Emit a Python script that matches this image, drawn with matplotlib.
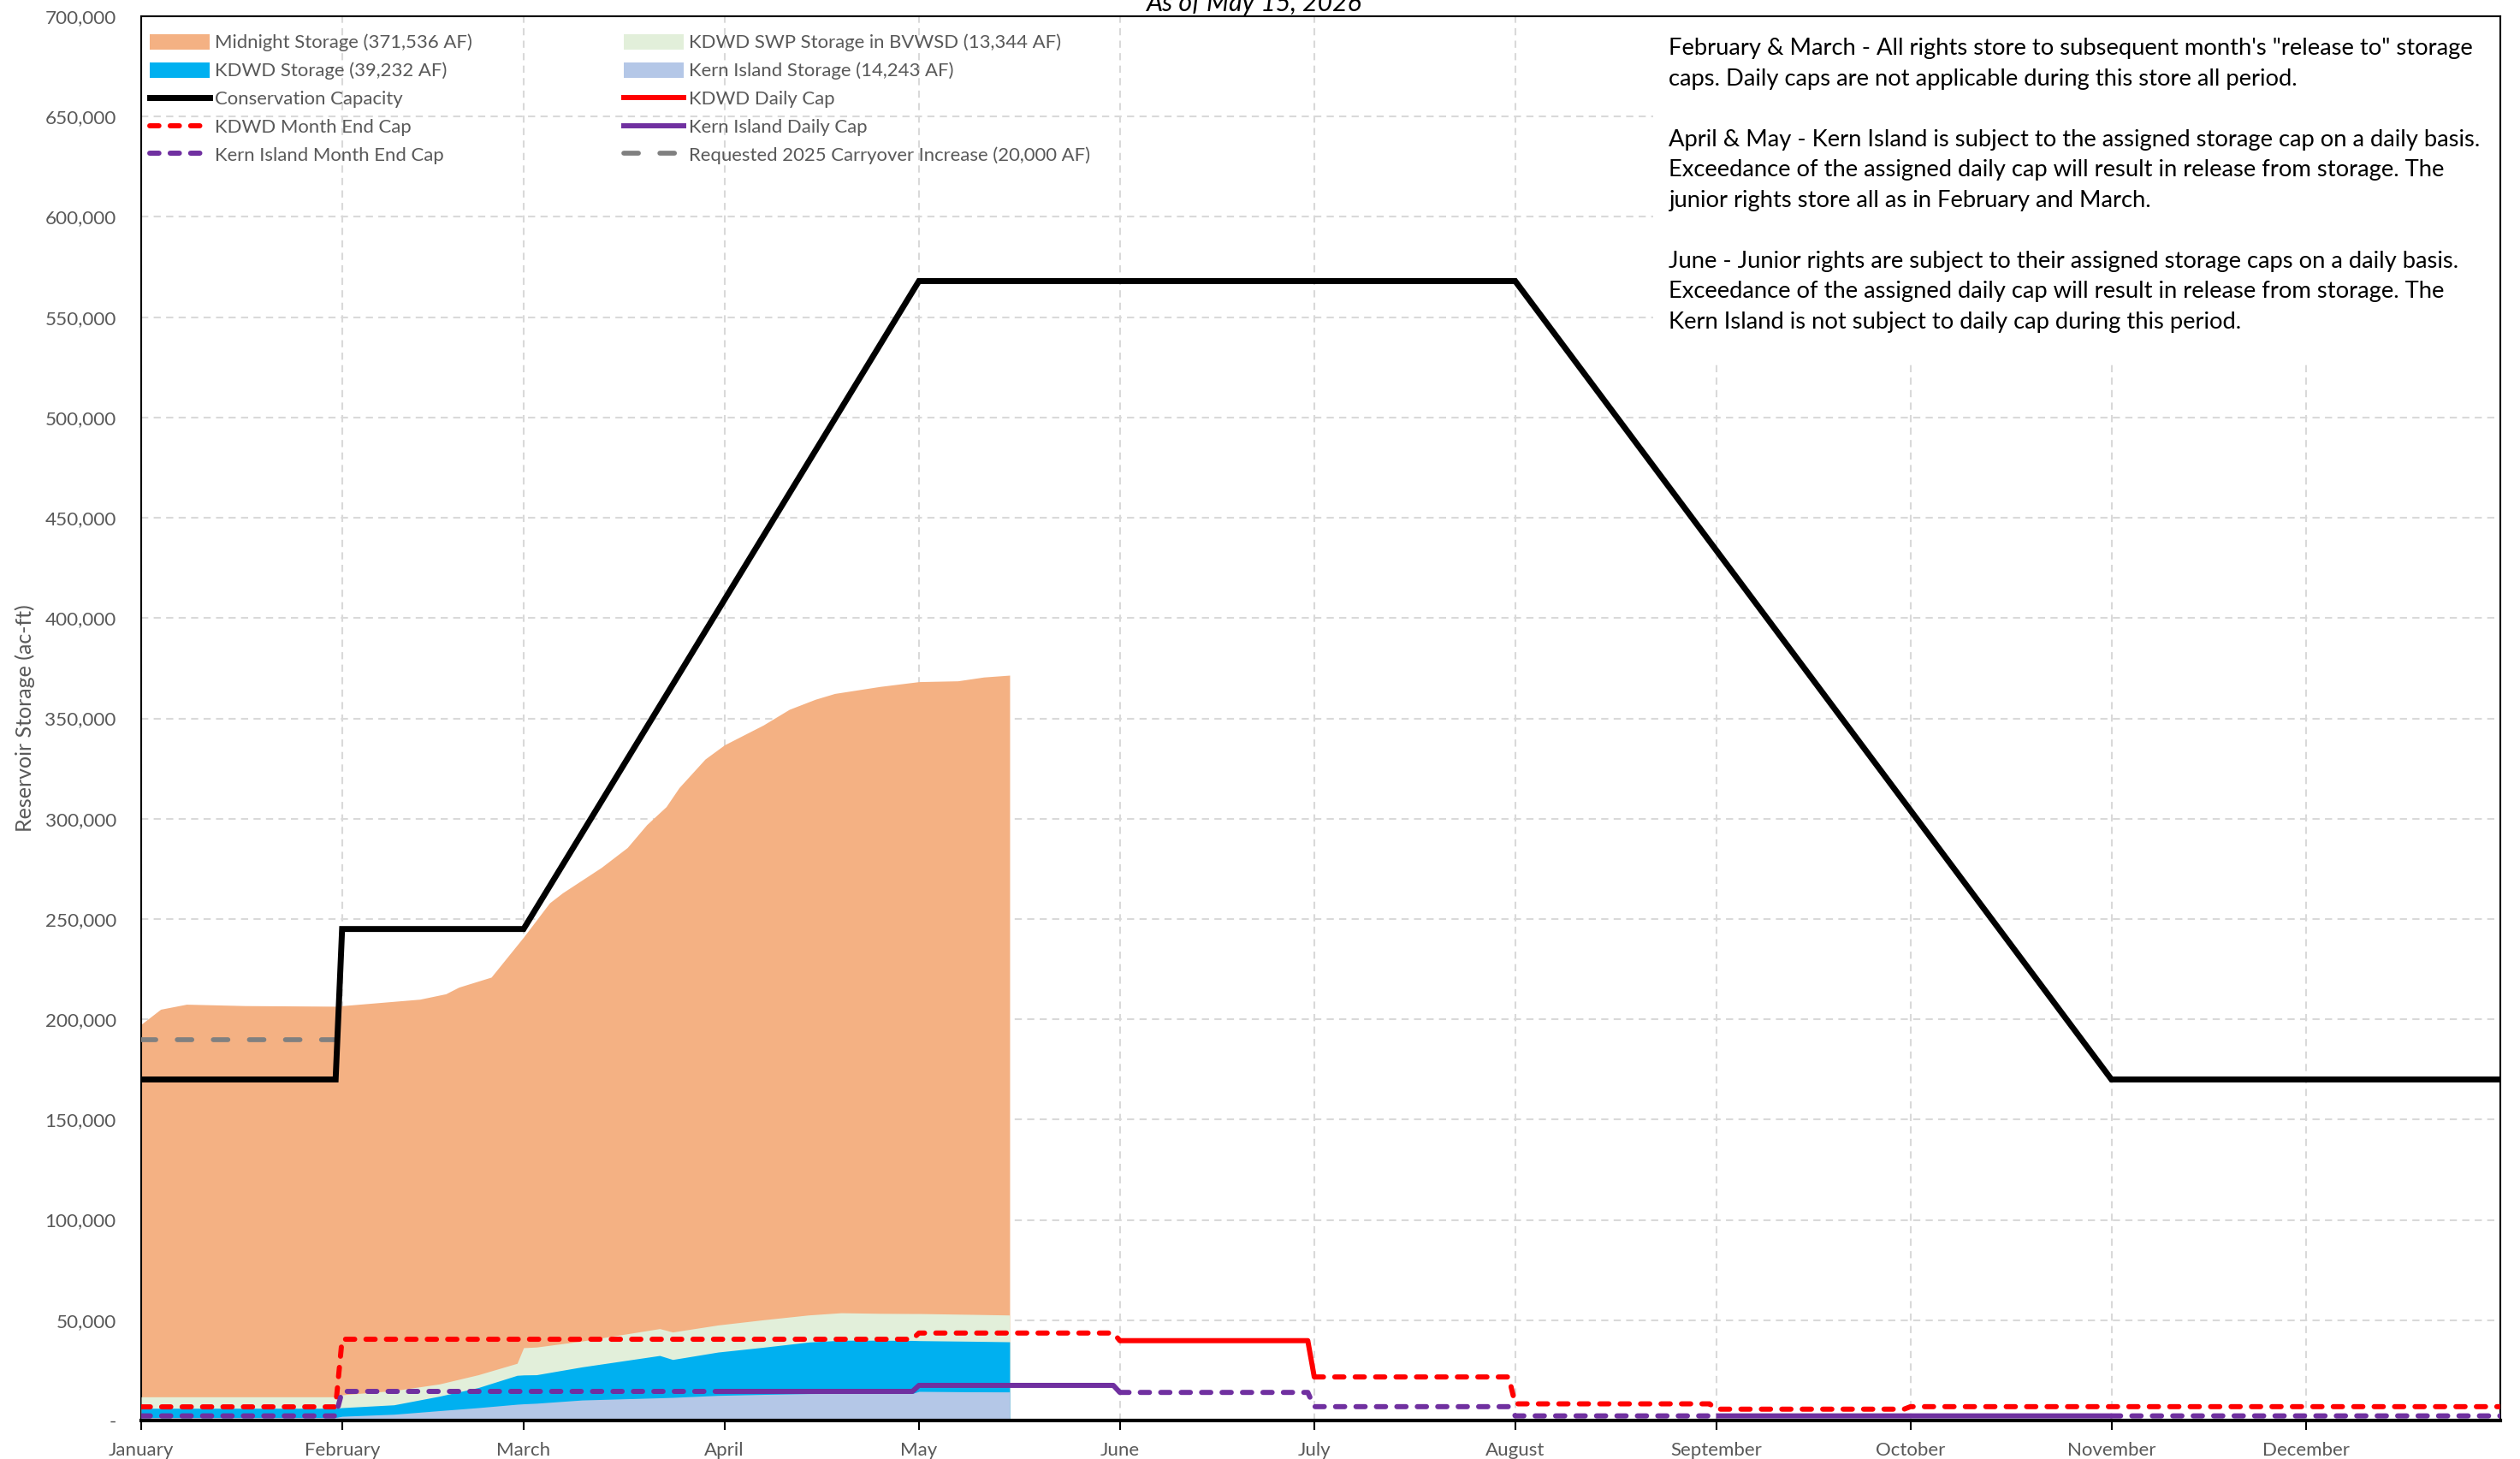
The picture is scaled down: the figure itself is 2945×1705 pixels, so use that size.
import numpy as np
import pandas as pd
import matplotlib
matplotlib.use("Agg")
import matplotlib.pyplot as plt
import matplotlib.dates as mdates
from matplotlib.patches import Patch, Rectangle
from matplotlib.lines import Line2D

plt.rcParams['font.family'] = ['Lato', 'DejaVu Sans']

# ---------------- data ----------------
title = "As of May 15, 2026"
month_labels = ["January", "February", "March", "April", "May", "June", "July",
                "August", "September", "October", "November", "December"]

# Midnight storage (total), AF
midnight_dates = ["2026-01-01", "2026-01-04", "2026-01-08", "2026-01-17", "2026-01-31",
                  "2026-02-13", "2026-02-17", "2026-02-19", "2026-02-24", "2026-03-01",
                  "2026-03-05", "2026-03-07", "2026-03-13", "2026-03-17", "2026-03-20",
                  "2026-03-23", "2026-03-25", "2026-03-29", "2026-04-01", "2026-04-07",
                  "2026-04-11", "2026-04-15", "2026-04-18", "2026-04-25", "2026-05-01",
                  "2026-05-07", "2026-05-11", "2026-05-15"]
midnight_storage = [197500, 205000, 207500, 206800, 206500,
                    210000, 212700, 216000, 221000, 241000,
                    258000, 263000, 275700, 285600, 297000,
                    306000, 315500, 329700, 336800, 346700,
                    354500, 359500, 362400, 365900, 368300,
                    368700, 370600, 371536]

# Lower storage layers, AF
layer_dates = ["2026-01-01", "2026-01-31", "2026-02-01", "2026-02-09", "2026-02-16",
               "2026-02-22", "2026-02-28", "2026-03-01", "2026-03-03", "2026-03-10",
               "2026-03-22", "2026-03-24", "2026-03-31", "2026-04-07", "2026-04-14",
               "2026-04-19", "2026-04-25", "2026-04-30", "2026-05-01", "2026-05-09",
               "2026-05-15"]
kern_island_storage = [1500, 1500, 2100, 3100, 4900, 6400, 8100, 8300, 8600, 10200,
                       11300, 11500, 12500, 13000, 13400, 13500, 13500, 13500, 14500, 14300,
                       14243]
kdwd_storage = [6100, 6100, 6400, 7800, 12100, 16400, 22500, 22700, 22800, 26700,
                32400, 30400, 34100, 36500, 39100, 40000, 40000, 39900, 39800, 39500,
                39232]
kdwd_swp_storage = [5700, 5700, 6400, 7100, 6100, 6400, 6000, 13600, 13800, 12900,
                    13400, 13700, 13500, 13700, 13500, 13700, 13400, 13400, 13500, 13400,
                    13344]

# Conservation capacity breakpoints
cons_dates = ["2026-01-01", "2026-01-31", "2026-02-01", "2026-03-01", "2026-05-01",
              "2026-08-01", "2026-11-01", "2026-12-31"]
cons_capacity = [170000, 170000, 245000, 245000, 568000, 568000, 170000, 170000]

# Requested carryover increase
carry_dates = ["2026-01-01", "2026-01-31"]
carry_value = [190000, 190000]

# Monthly caps (Jan..Dec) and months where the cap applies daily
kdwd_cap = [6800, 40500, 40500, 40500, 43600, 39800, 21700, 8300, 5650, 6900, 6900, 6900]
kdwd_daily_months = [6]
ki_cap = [2300, 14500, 14500, 14500, 17500, 14000, 6900, 2300, 2300, 2300, 2300, 2300]
ki_daily_months = [4, 5, 9, 10]

# legend labels
lbl_midnight = "Midnight Storage (371,536 AF)"
lbl_kdwd = "KDWD Storage (39,232 AF)"
lbl_swp = "KDWD SWP Storage in BVWSD (13,344 AF)"
lbl_ki = "Kern Island Storage (14,243 AF)"

notes = ("February & March - All rights store to subsequent month's \"release to\" storage\n"
         "caps. Daily caps are not applicable during this store all period.\n"
         "\n"
         "April & May - Kern Island is subject to the assigned storage cap on a daily basis.\n"
         "Exceedance of the assigned daily cap will result in release from storage. The\n"
         "junior rights store all as in February and March.\n"
         "\n"
         "June - Junior rights are subject to their assigned storage caps on a daily basis.\n"
         "Exceedance of the assigned daily cap will result in release from storage. The\n"
         "Kern Island is not subject to daily cap during this period.")

# ---------------- helpers ----------------
days = pd.date_range("2026-01-01", "2026-12-31", freq="D")


def split_caps(monthly, daily_months):
    vals = np.array([monthly[d.month - 1] for d in days], dtype=float)
    is_daily = np.array([d.month in daily_months for d in days])
    solid = np.full(len(days), np.nan)
    dotted = np.full(len(days), np.nan)
    solid[is_daily] = vals[is_daily]
    dotted[~is_daily] = vals[~is_daily]
    for i in range(1, len(days)):
        if days[i].day == 1:
            if is_daily[i - 1] and not is_daily[i]:
                solid[i] = vals[i]
            if (not is_daily[i - 1]) and is_daily[i]:
                dotted[i] = vals[i]
    return solid, dotted


kdwd_solid, kdwd_dotted = split_caps(kdwd_cap, kdwd_daily_months)
ki_solid, ki_dotted = split_caps(ki_cap, ki_daily_months)

md = pd.to_datetime(midnight_dates)
ld = pd.to_datetime(layer_dates)
kdwd_arr = np.array(kdwd_storage)
swp_top = kdwd_arr + np.array(kdwd_swp_storage)

# ---------------- figure ----------------
W, H = 2945, 1705
fig = plt.figure(figsize=(W / 100, H / 100), dpi=100)
ax_l, ax_r, ax_t, ax_b = 165, 2922, 19, 1660
ax = fig.add_axes([ax_l / W, 1 - ax_b / H, (ax_r - ax_l) / W, (ax_b - ax_t) / H])

c_orange = "#F4B183"
c_green = "#E2EFDA"
c_blue = "#00B0F0"
c_lblue = "#B4C7E7"
c_red = "#FF0000"
c_purple = "#7030A0"
c_gray = "#808080"
txt_gray = "#595959"

ax.fill_between(md, 0, midnight_storage, color=c_orange, lw=0, zorder=2)
ax.fill_between(ld, 0, swp_top, color=c_green, lw=0, zorder=3)
ax.fill_between(ld, 0, kdwd_arr, color=c_blue, lw=0, zorder=4)
ax.fill_between(ld, 0, kern_island_storage, color=c_lblue, lw=0, zorder=5)

lw_cap = 4.3
dash_cap = (0, (1.8, 2.2))
lw_cons = 5.0
lw_carry = 4.1
dash_carry = (0, (3.0, 4.4))
ax.plot(days, kdwd_dotted, color=c_red, lw=lw_cap, ls=dash_cap, dash_capstyle="round", zorder=7)
ax.plot(days, kdwd_solid, color=c_red, lw=lw_cap, solid_capstyle="butt", zorder=7)
ax.plot(days, ki_dotted, color=c_purple, lw=lw_cap, ls=dash_cap, dash_capstyle="round", zorder=7)
ax.plot(days, ki_solid, color=c_purple, lw=lw_cap, solid_capstyle="butt", zorder=7)
ax.plot(pd.to_datetime(cons_dates), cons_capacity, color="black", lw=lw_cons, zorder=8,
        solid_joinstyle="miter")
ax.plot(pd.to_datetime(carry_dates), carry_value, color=c_gray, lw=lw_carry, ls=dash_carry,
        dash_capstyle="round", zorder=6)

# axes formatting
ax.set_xlim(pd.Timestamp("2026-01-01"), pd.Timestamp("2026-12-31"))
ax.set_ylim(0, 700000)
yt = np.arange(0, 700001, 50000)
ax.set_yticks(yt)
ax.set_yticklabels(["-" if v == 0 else f"{v:,.0f}" for v in yt])
month_starts = pd.date_range("2026-01-01", periods=12, freq="MS")
ax.set_xticks(month_starts)
ax.set_xticklabels(month_labels)
ax.tick_params(axis="y", length=0, pad=21, labelsize=16.2, labelcolor=txt_gray)
ax.tick_params(axis="x", length=8, width=1.5, direction="out", pad=10, labelsize=16,
               labelcolor=txt_gray, color="black")
ax.set_ylabel("Reservoir Storage (ac-ft)", fontsize=18, color=txt_gray)
ax.yaxis.set_label_coords(-0.0448, 0.5)

ax.set_axisbelow(True)
ax.grid(True, color="#D9D9D9", lw=1.5, ls=(0, (4, 3)))
for side in ["left", "top", "right"]:
    ax.spines[side].set_color("black")
    ax.spines[side].set_linewidth(1.5)
ax.spines["bottom"].set_linewidth(3)
ax.spines["bottom"].set_zorder(9)

# white note box over the gridlines
ax.add_patch(Rectangle((0.641, 0.7526), 0.359, 0.2474, transform=ax.transAxes,
                       facecolor="white", edgecolor="none", zorder=1))
ax.text(0.6474, 0.9845, notes, transform=ax.transAxes, ha="left", va="top",
        fontsize=19.7, color="black", linespacing=1.525, zorder=10)

# title (partially cropped at top)
fig.text(1466 / W, 1 - 13 / H, title, ha="center", va="baseline", fontsize=21.8,
         style="italic", color="black")

# legend
handles = [
    Patch(facecolor=c_orange, edgecolor="none", label=lbl_midnight),
    Patch(facecolor=c_blue, edgecolor="none", label=lbl_kdwd),
    Line2D([], [], color="black", lw=lw_cons, label="Conservation Capacity"),
    Line2D([], [], color=c_red, lw=lw_cap, ls=dash_cap, dash_capstyle="round", label="KDWD Month End Cap"),
    Line2D([], [], color=c_purple, lw=lw_cap, ls=dash_cap, dash_capstyle="round", label="Kern Island Month End Cap"),
    Patch(facecolor=c_green, edgecolor="none", label=lbl_swp),
    Patch(facecolor=c_lblue, edgecolor="none", label=lbl_ki),
    Line2D([], [], color=c_red, lw=lw_cap, label="KDWD Daily Cap"),
    Line2D([], [], color=c_purple, lw=lw_cap, label="Kern Island Daily Cap"),
    Line2D([], [], color=c_gray, lw=lw_carry, ls=dash_carry, dash_capstyle="round",
           label="Requested 2025 Carryover Increase (20,000 AF)"),
]
leg = ax.legend(handles=handles, ncol=2, loc="upper left", bbox_to_anchor=(0.002, 0.99),
                frameon=False, fontsize=15.9, labelcolor=txt_gray, handlelength=3.17,
                handleheight=0.88, handletextpad=0.26, labelspacing=0.55, columnspacing=8.05,
                borderaxespad=0, borderpad=0.2)
leg.set_zorder(11)

fig.savefig("out.png", dpi=100)
